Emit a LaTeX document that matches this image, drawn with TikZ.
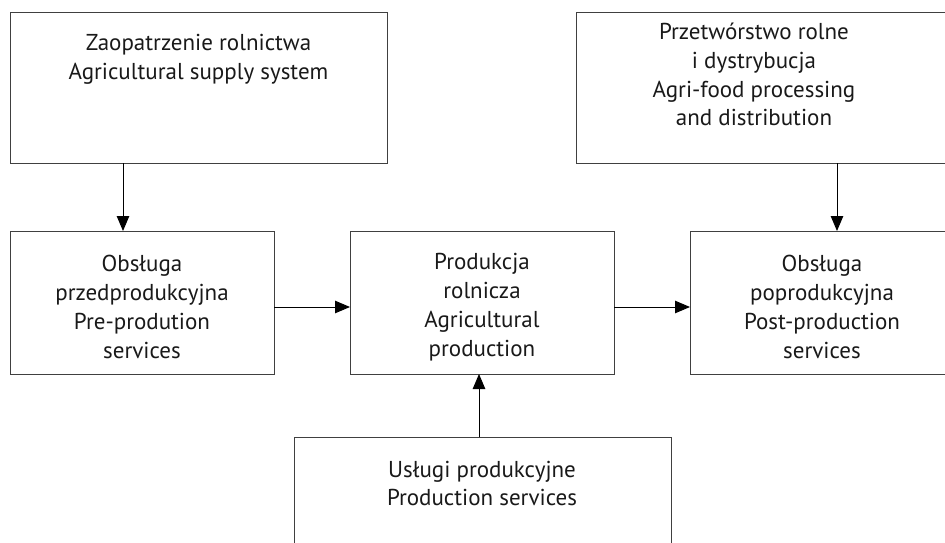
\documentclass[tikz,border=0pt]{standalone}
\usepackage{fontspec}
\setmainfont{PT Sans}
\usetikzlibrary{arrows.meta}

\tikzset{
  box/.style={draw=black!75, line width=0.9pt, rectangle, outer sep=0pt, inner sep=0pt},
  txt/.style={align=center, inner sep=0pt, font=\fontsize{23}{28.8}\selectfont, text=black!90},
  arr/.style={draw=black, line width=0.9pt, -{Triangle[length=15pt,width=12.5pt]}}
}

\begin{document}
\begin{tikzpicture}[x=1pt,y=-1pt]

    % Frame of the picture
    \useasboundingbox (0,0) rectangle (945,543);
    \clip (0,0) rectangle (945,543);

    % Boxes of the top row
    \node[box, minimum width=377pt, minimum height=151pt] (supply) at (198.5,87.5) {};
    \node[box, minimum width=384pt, minimum height=151pt] (proc) at (768,87.5) {};

    % Boxes of the middle row
    \node[box, minimum width=264pt, minimum height=143pt] (pre) at (142,302.5) {};
    \node[box, minimum width=264pt, minimum height=143pt] (prod) at (482,302.5) {};
    \node[box, minimum width=270pt, minimum height=143pt] (post) at (825,302.5) {};

    % Box of the bottom row
    \node[box, minimum width=377pt, minimum height=151pt] (serv) at (482.5,512.5) {};

    % Texts of the boxes
    \node[txt] (supply-t) at (198.5,59) {Zaopatrzenie rolnictwa\\Agricultural supply system};
    \node[txt] (proc-t) at (754,74.5) {Przetwórstwo rolne\\i dystrybucja\\Agri-food processing\\and distribution};
    \node[txt] (pre-t) at (142,307) {Obsługa\\przedprodukcyjna\\Pre-prodution\\services};
    \node[txt] (prod-t) at (482,307) {Produkcja\\rolnicza\\Agricultural\\production};
    \node[txt] (post-t) at (822,307) {Obsługa\\poprodukcyjna\\Post-production\\services};
    \node[txt] (serv-t) at (482,483.5) {Usługi produkcyjne\\Production services};

    % Where the arrows run
    \coordinate (a1) at (123,0);
    \coordinate (a2) at (837,0);
    \coordinate (a3) at (479,0);
    \coordinate (mid) at (0,307);

    % Arrows
    \draw[arr] (supply.south -| a1) -- (pre.north -| a1);
    \draw[arr] (proc.south -| a2) -- (post.north -| a2);
    \draw[arr] (serv.north -| a3) -- (prod.south -| a3);
    \draw[arr] (pre.east |- mid) -- (prod.west |- mid);
    \draw[arr] (prod.east |- mid) -- (post.west |- mid);

\end{tikzpicture}
\end{document}
